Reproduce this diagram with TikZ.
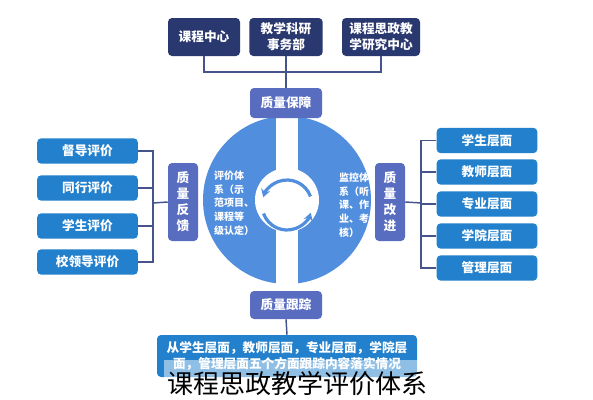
\documentclass[tikz,border=0pt]{standalone}
\usepackage{fontspec}
\setmainfont{Noto Sans CJK SC}
\usetikzlibrary{arrows.meta}
\definecolor{navy}{RGB}{42,56,112}
\definecolor{qblue}{RGB}{88,108,192}
\definecolor{iblue}{RGB}{34,128,204}
\definecolor{ringblue}{RGB}{82,142,222}
\definecolor{linkgray}{RGB}{70,84,140}

\begin{document}
\begin{tikzpicture}[x=0.75pt, y=-0.75pt,
    box/.style={rounded corners=3pt, text=white, align=center, inner sep=0pt,
        font=\bfseries\fontsize{9.5}{12}\selectfont},
    topbox/.style={box, fill=navy, minimum height=28.5pt},
    qbox/.style={box, fill=qblue},
    itembox/.style={box, fill=iblue, minimum width=75.5pt, minimum height=19pt},
    ringtext/.style={text=white, align=left, inner sep=0pt, font=\bfseries\fontsize{7.5}{10.3}\selectfont},
    link/.style={draw=linkgray, line width=1.1pt}]
    \useasboundingbox (0,0) rectangle (593,400);
    \coordinate (O) at (287,200);
    \coordinate (C) at (287,205);
    % ring with band
    \fill[ringblue] (O) circle[radius=84];
    \fill[white] (O) circle[radius=32];
    \fill[white] (276,110) rectangle (298,290);
    \draw[ringblue, line width=2.4pt, -{Stealth[length=6pt,width=7pt]}] (C) ++(-20:25) arc[start angle=-20, end angle=-162, radius=25];
    \draw[ringblue, line width=2.4pt, -{Stealth[length=6pt,width=7pt]}] (C) ++(160:25) arc[start angle=160, end angle=18, radius=25];
    \node[ringtext] (pj) at (234,203) {评价体\\系（示\\范项目、\\课程等\\级认定）};
    \node[ringtext] (jk) at (354,205) {监控体\\系（听\\课、作\\业、考\\核）};
    % top
    \node[topbox, minimum width=54pt] (kc) at (204,37) {课程中心};
    \node[topbox, minimum width=55pt] (jk) at (286,37) {教学科研\\事务部};
    \node[topbox, minimum width=58.5pt] (yj) at (381,37) {课程思政教\\学研究中心};
    \node[qbox, minimum width=54pt, minimum height=22.5pt] (bz) at (286,103) {质量保障};
    \node[qbox, minimum width=54pt, minimum height=21pt] (gz) at (286,305) {质量跟踪};
    \node[qbox, minimum width=22.5pt, minimum height=58.5pt] (fk) at (183,202) {质\\量\\反\\馈};
    \node[qbox, minimum width=22.5pt, minimum height=58.5pt] (gj) at (390,202) {质\\量\\改\\进};
    \coordinate (tl) at (204,72);
    \coordinate (tr) at (381,72);
    \draw[link] (kc.south) -- (tl) -- (tr) -- (yj.south);
    \draw[link] (jk.south) -- (bz.north);
    % left
    \coordinate (lb) at (153,203);
    \foreach \n/\y/\t in {l1/151/督导评价, l2/188/同行评价, l3/226/学生评价, l4/262/校领导评价} {
        \node[itembox] (\n) at (87.5,\y) {\t};
        \draw[link] (\n.east) -| (lb);
    }
    \draw[link] (lb) -- (fk.west);
    % right
    \coordinate (rb) at (421,203);
    \foreach \n/\y/\t in {r1/140.5/学生层面, r2/172/教师层面, r3/204/专业层面, r4/236/学院层面, r5/268/管理层面} {
        \node[itembox] (\n) at (487,\y) {\t};
        \draw[link] (\n.west) -| (rb);
    }
    \draw[link] (gj.east) -- (rb);
    % bottom
    \node[box, fill=iblue, minimum width=195pt, minimum height=31.5pt] (gs) at (287,356) {从学生层面，教师层面，专业层面，学院层\\面，管理层面五个方面跟踪内容落实情况};
    \draw[link] (gz.south) -- (gs.north);
    \node[fill=white, fill opacity=0.5, text opacity=1, inner xsep=2pt, minimum height=36pt,
        font=\fontsize{19.5}{22}\selectfont] (title) at (297,384) {课程思政教学评价体系};
\end{tikzpicture}
\end{document}
